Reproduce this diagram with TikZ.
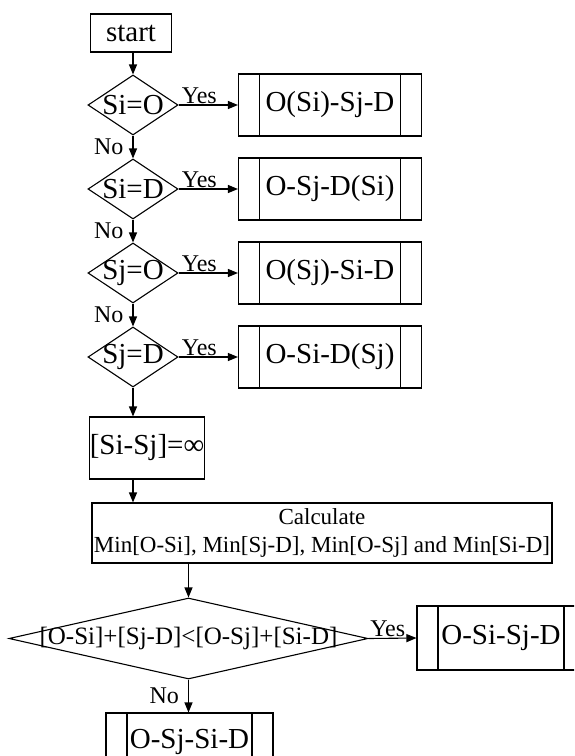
\documentclass[tikz,border=0pt]{standalone}
\usepackage{fontspec}
\setmainfont{Liberation Serif}
\usetikzlibrary{arrows.meta, calc, positioning, shapes.geometric}

\tikzset{
    base/.style={draw, inner sep=0pt, font=\fontsize{29}{34}\selectfont},
    procbox/.style={base, rectangle, minimum width=#1, minimum height=62pt},
    subproc/.style={procbox=#1, path picture={
        \draw ([xshift=21pt]path picture bounding box.north west) -- ([xshift=21pt]path picture bounding box.south west);
        \draw ([xshift=-21pt]path picture bounding box.north east) -- ([xshift=-21pt]path picture bounding box.south east);
    }},
    check/.style={base, diamond, minimum width=90pt, minimum height=60pt},
    flow/.style={-{Triangle[length=10pt,width=8pt]}},
    lbl/.style={font=\fontsize{24}{28}\selectfont, inner sep=1pt},
}

\begin{document}
\begin{tikzpicture}[x=1pt, y=-1pt, line width=1.1pt]
    \useasboundingbox (0,0) rectangle (574,756);
    \clip (0,0) rectangle (574,756);

    % start
    \node[procbox=81pt, minimum height=38pt] (start) at (131,33) {start};

    % the four end point checks
    \foreach \i/\y/\cond/\route in {1/105/Si=O/O(Si)-Sj-D, 2/189/Si=D/O-Sj-D(Si), 3/273/Sj=O/O(Sj)-Si-D, 4/357/Sj=D/O-Si-D(Sj)} {
        \node[check] (c\i) at (133,\y) {\makebox[0pt]{\cond}};
        \node[subproc=183pt] (r\i) at (330,\y) {\route};
        \draw[flow] (c\i.east) -- node[lbl, above, pos=0.35] {Yes} (r\i.west);
    }
    \draw[flow] (start.south -| c1.north) -- (c1.north);
    \foreach \i/\j in {1/2, 2/3, 3/4}
        \draw[flow] (c\i.south) -- node[lbl, left, xshift=-8pt] {No} (c\j.north);

    % no shared point
    \node[procbox=113pt] (inf) at (147,448) {[Si-Sj]=∞};
    \draw[flow] (c4.south) -- (c4.south |- inf.north);

    \node[procbox=460pt, minimum height=60pt, font=\fontsize{23}{28}\selectfont, align=center] (calc) at (322,533)
        {Calculate\\Min[O-Si], Min[Sj-D], Min[O-Sj] and Min[Si-D]};
    \draw[flow] (c4.south |- inf.south) -- (c4.south |- calc.north);

    % final comparison
    \node[base, diamond, minimum width=359pt, minimum height=81pt, font=\fontsize{25}{30}\selectfont] (cmp) at (188.5,638.5)
        {\makebox[0pt]{[O-Si]+[Sj-D]<[O-Sj]+[Si-D]}};
    \draw[flow] (cmp.north |- calc.south) -- (cmp.north);

    \node[subproc=168pt, minimum height=64pt] (best) at (501,638) {O-Si-Sj-D};
    \draw[flow] (cmp.east) -- node[lbl, above, pos=0.4] {Yes} (best.west);

    \node[subproc=167pt, minimum height=58pt] (alt) at (189.5,742) {O-Sj-Si-D};
    \draw[flow] (cmp.south) -- node[lbl, left, xshift=-8pt] {No} (cmp.south |- alt.north);
\end{tikzpicture}
\end{document}
